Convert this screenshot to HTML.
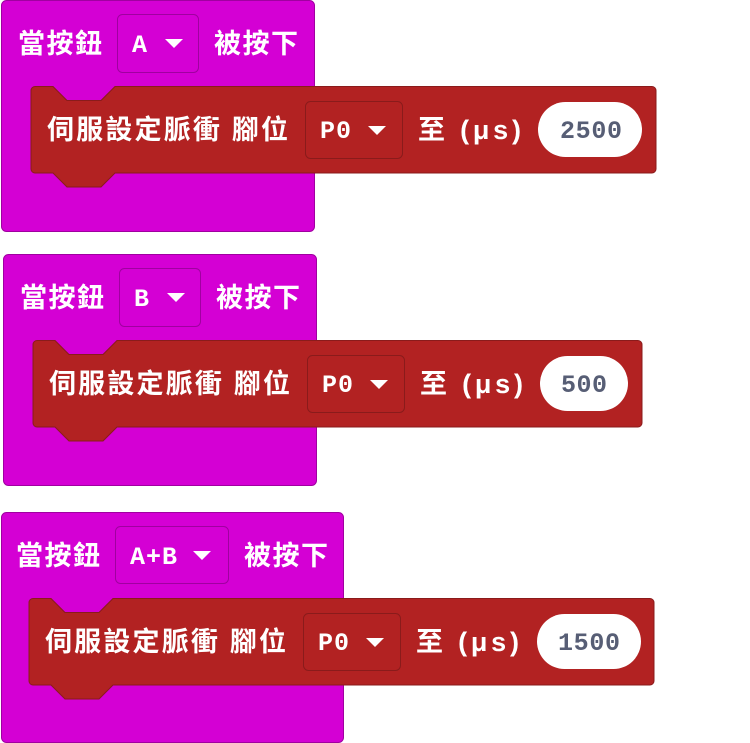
<!DOCTYPE html>
<html><head><meta charset="utf-8"><style>
html,body{margin:0;padding:0;background:#fff;}
svg{display:block}
.t{font-family:"Liberation Sans","Noto Sans CJK TC",sans-serif;font-weight:700;font-size:27px;fill:#fff}
.m{font-family:"Liberation Mono","DejaVu Sans Mono",monospace;font-weight:700;font-size:25px;fill:#fff}
.n{font-family:"Liberation Mono","DejaVu Sans Mono",monospace;font-weight:700;font-size:25px;fill:#575E75}
</style></head><body>
<svg width="750" height="743" viewBox="0 0 750 743" xmlns="http://www.w3.org/2000/svg">
<!-- Block 1 -->
<rect x="1.5" y="0.5" width="313" height="231" rx="5" fill="#D400D4" stroke="#A000A0"/>
<rect x="117.5" y="14.5" width="81" height="58" rx="5" fill="#D400D4" stroke="#A000A0"/>
<text class="t" x="18" y="53" textLength="84" lengthAdjust="spacing">當按鈕</text>
<text class="m" x="132" y="52">A</text>
<path d="M165 39h18l-9 9z" fill="#fff"/>
<text class="t" x="214" y="53" textLength="84" lengthAdjust="spacing">被按下</text>
<path d="M35 86.5H53L67 100.5H101L115 86.5H652a4 4 0 0 1 4 4V169a4 4 0 0 1-4 4H115L101 187H67L53 173H35a4 4 0 0 1-4-4V90.5a4 4 0 0 1 4-4z" fill="#B22222" stroke="#8A1B1B"/>
<text class="t" x="47" y="139" textLength="241" lengthAdjust="spacing">伺服設定脈衝 腳位</text>
<rect x="305.5" y="101.5" width="97" height="57" rx="5" fill="#B22222" stroke="#8A1B1B"/>
<text class="m" x="320" y="138" textLength="31" lengthAdjust="spacing">P0</text>
<path d="M368 126h18l-9 9z" fill="#fff"/>
<text class="t" x="418" y="139" textLength="103" lengthAdjust="spacing">至 (μs)</text>
<rect x="538" y="102" width="104" height="55" rx="27.5" fill="#fff"/>
<text class="n" x="560" y="138" textLength="62" lengthAdjust="spacing">2500</text>

<!-- Block 2 -->
<rect x="3.5" y="254.5" width="313" height="231" rx="5" fill="#D400D4" stroke="#A000A0"/>
<rect x="119.5" y="268.5" width="81" height="58" rx="5" fill="#D400D4" stroke="#A000A0"/>
<text class="t" x="20" y="307" textLength="84" lengthAdjust="spacing">當按鈕</text>
<text class="m" x="134" y="306">B</text>
<path d="M167 293h18l-9 9z" fill="#fff"/>
<text class="t" x="216" y="307" textLength="84" lengthAdjust="spacing">被按下</text>
<path d="M37 340.5H55L69 354.5H103L117 340.5H638a4 4 0 0 1 4 4V423a4 4 0 0 1-4 4H117L103 441H69L55 427H37a4 4 0 0 1-4-4V344.5a4 4 0 0 1 4-4z" fill="#B22222" stroke="#8A1B1B"/>
<text class="t" x="49" y="393" textLength="241" lengthAdjust="spacing">伺服設定脈衝 腳位</text>
<rect x="307.5" y="355.5" width="97" height="57" rx="5" fill="#B22222" stroke="#8A1B1B"/>
<text class="m" x="322" y="392" textLength="31" lengthAdjust="spacing">P0</text>
<path d="M370 380h18l-9 9z" fill="#fff"/>
<text class="t" x="420" y="393" textLength="103" lengthAdjust="spacing">至 (μs)</text>
<rect x="540" y="356" width="88" height="55" rx="27.5" fill="#fff"/>
<text class="n" x="561" y="392" textLength="46" lengthAdjust="spacing">500</text>

<!-- Block 3 -->
<rect x="1.5" y="512.5" width="342" height="230" rx="5" fill="#D400D4" stroke="#A000A0"/>
<rect x="115.5" y="526.5" width="113" height="57" rx="5" fill="#D400D4" stroke="#A000A0"/>
<text class="t" x="16" y="565" textLength="84" lengthAdjust="spacing">當按鈕</text>
<text class="m" x="130" y="564" textLength="47" lengthAdjust="spacing">A+B</text>
<path d="M193 551h18l-9 9z" fill="#fff"/>
<text class="t" x="244" y="565" textLength="84" lengthAdjust="spacing">被按下</text>
<path d="M33 598.5H51L65 612.5H99L113 598.5H650a4 4 0 0 1 4 4V681a4 4 0 0 1-4 4H113L99 699H65L51 685H33a4 4 0 0 1-4-4V602.5a4 4 0 0 1 4-4z" fill="#B22222" stroke="#8A1B1B"/>
<text class="t" x="45" y="651" textLength="241" lengthAdjust="spacing">伺服設定脈衝 腳位</text>
<rect x="303.5" y="613.5" width="97" height="57" rx="5" fill="#B22222" stroke="#8A1B1B"/>
<text class="m" x="318" y="650" textLength="31" lengthAdjust="spacing">P0</text>
<path d="M366 638h18l-9 9z" fill="#fff"/>
<text class="t" x="416" y="651" textLength="103" lengthAdjust="spacing">至 (μs)</text>
<rect x="537" y="614" width="104" height="55" rx="27.5" fill="#fff"/>
<text class="n" x="558" y="650" textLength="62" lengthAdjust="spacing">1500</text>
</svg>
</body></html>
